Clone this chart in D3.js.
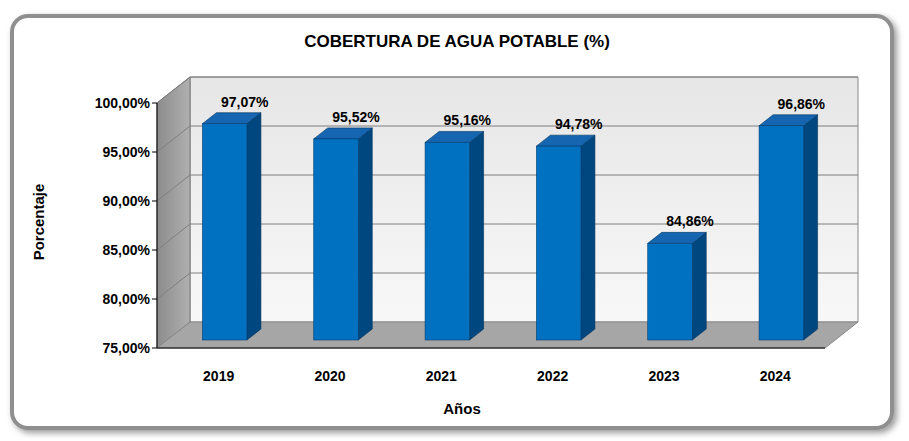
<!DOCTYPE html><html><head><meta charset="utf-8"><script src="https://cdn.jsdelivr.net/npm/d3@7"></script>
<style>body{margin:0;background:#fff}</style></head><body><svg id="c" width="909" height="441"></svg>
<script>
const categories=["2019","2020","2021","2022","2023","2024"];
const values=[97.07,95.52,95.16,94.78,84.86,96.86];
const labels=["97,07%","95,52%","95,16%","94,78%","84,86%","96,86%"];
const ticks=[75,80,85,90,95,100];
const svg=d3.select("#c");
const defs=svg.append("defs");
const f=defs.append("filter").attr("id","sh").attr("x","-5%").attr("y","-5%").attr("width","110%").attr("height","115%");
f.append("feDropShadow").attr("dx",3).attr("dy",3).attr("stdDeviation",3).attr("flood-color","#000").attr("flood-opacity",0.4);
const gw=defs.append("linearGradient").attr("id","bw").attr("x1",0).attr("y1",0).attr("x2",0).attr("y2",1);
gw.append("stop").attr("offset",0).attr("stop-color","#e6e6e6");gw.append("stop").attr("offset",1).attr("stop-color","#f8f8f8");
const gl=defs.append("linearGradient").attr("id","lw").attr("x1",0).attr("y1",0).attr("x2",1).attr("y2",0);
gl.append("stop").attr("offset",0).attr("stop-color","#8c8c8c");gl.append("stop").attr("offset",1).attr("stop-color","#b0b0b0");
svg.append("rect").attr("x",12).attr("y",16).attr("width",880).attr("height",412).attr("rx",16).attr("fill","#fff").attr("stroke","#8f8f8f").attr("stroke-width",4).attr("filter","url(#sh)");
svg.append("text").attr("x",457).attr("y",47).attr("text-anchor","middle").attr("font-family","Liberation Sans, Arial").attr("font-weight","bold").attr("font-size",17).text("COBERTURA DE AGUA POTABLE (%)");
const y=d3.scaleLinear().domain([75,100]).range([348,103]);
const DX=33,DY=-26,x0=157,x1=825;
const x=d3.scaleBand().domain(categories).range([x0+8,x1+8]).paddingInner(0.6).paddingOuter(0.3);
const pf="Liberation Sans, Arial";
svg.append("path").attr("d",`M${x0+DX},${y(100)+DY}H${x1+DX}V${y(75)+DY}H${x0+DX}Z`).attr("fill","url(#bw)").attr("stroke","#888");
svg.append("path").attr("d",`M${x0},${y(100)}L${x0+DX},${y(100)+DY}V${y(75)+DY}L${x0},${y(75)}Z`).attr("fill","url(#lw)").attr("stroke","#777");
svg.append("path").attr("d",`M${x0},${y(75)}L${x0+DX},${y(75)+DY}H${x1+DX}L${x1},${y(75)}Z`).attr("fill","#a6a6a6").attr("stroke","#888");
ticks.forEach(t=>{
 if(t>75&&t<=100){svg.append("path").attr("d",`M${x0},${y(t)}L${x0+DX},${y(t)+DY}H${x1+DX}`).attr("fill","none").attr("stroke","#7f7f7f").attr("stroke-width",1);}
 svg.append("line").attr("x1",x0-5).attr("x2",x0).attr("y1",y(t)).attr("y2",y(t)).attr("stroke","#000");
 svg.append("text").attr("x",x0-7).attr("y",y(t)+5).attr("text-anchor","end").attr("font-family",pf).attr("font-weight","bold").attr("font-size",14).text(d3.format(".2f")(t).replace(".",",")+"%");
});
svg.append("line").attr("x1",x0).attr("x2",x0).attr("y1",y(100)).attr("y2",y(75)).attr("stroke","#000");
svg.append("line").attr("x1",x0).attr("x2",x1).attr("y1",y(75)).attr("y2",y(75)).attr("stroke","#000");
const bx=14,by=-8,ddx=14,ddy=-11;
categories.forEach((c,i)=>{
 const L=x(c)+bx-10,w=x.bandwidth(),T=y(values[i])+by,B=y(75)+by;
 svg.append("path").attr("d",`M${L+w},${T}l${ddx},${ddy}V${B+ddy}l${-ddx},${-ddy}Z`).attr("fill","#00467f").attr("stroke","#003560").attr("stroke-width",0.6);
 svg.append("path").attr("d",`M${L},${T}l${ddx},${ddy}h${w}l${-ddx},${-ddy}Z`).attr("fill","#1565b0").attr("stroke","#003560").attr("stroke-width",0.6);
 svg.append("rect").attr("x",L).attr("y",T).attr("width",w).attr("height",B-T).attr("fill","#0070c0").attr("stroke","#003f73").attr("stroke-width",0.6);
 svg.append("text").attr("x",L+w/2+20).attr("y",T+ddy-6).attr("text-anchor","middle").attr("font-family",pf).attr("font-weight","bold").attr("font-size",14).text(labels[i]);
 svg.append("text").attr("x",x(c)+w/2-2).attr("y",381).attr("text-anchor","middle").attr("font-family",pf).attr("font-weight","bold").attr("font-size",14).text(c);
});
svg.append("text").attr("x",462).attr("y",414).attr("text-anchor","middle").attr("font-family",pf).attr("font-weight","bold").attr("font-size",15).text("Años");
svg.append("text").attr("transform","translate(44,222) rotate(-90)").attr("text-anchor","middle").attr("font-family",pf).attr("font-weight","bold").attr("font-size",15).text("Porcentaje");
</script></body></html>
